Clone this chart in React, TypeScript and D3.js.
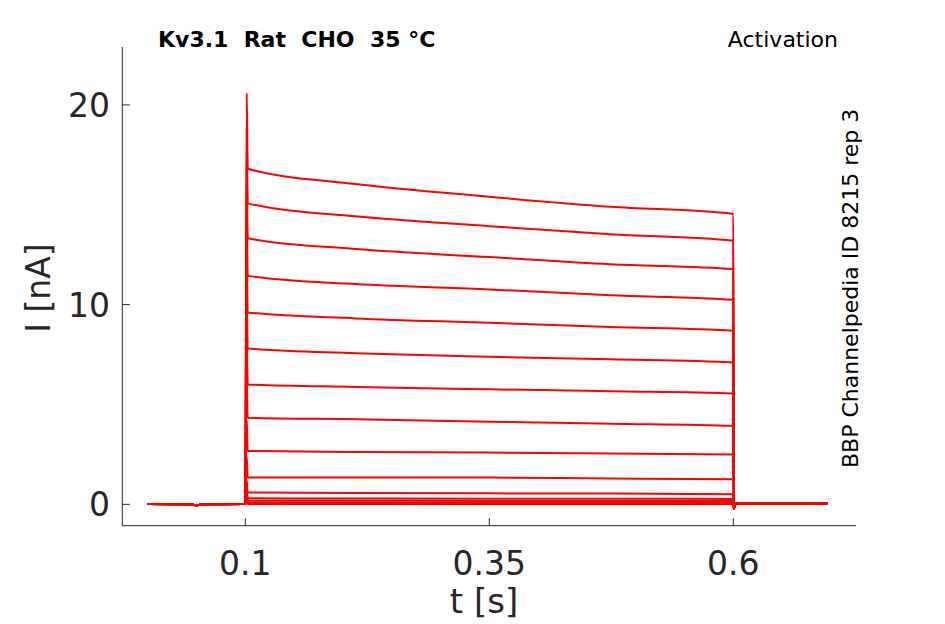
import { useEffect } from "react";
import * as d3 from "d3";

// ---------------------------------------------------------------------------
// Data (time in s, current in nA)
// ---------------------------------------------------------------------------

const HOLD_T = [0, 0.045, 0.05, 0.055, 0.0998];
const HOLD_I = [0.02, 0.0, -0.06, 0.0, 0.02];

const STEP_ON = 0.1;
const SPIKE_T = 0.1015;
const STEP_T = [0.1025, 0.213, 0.35, 0.474, 0.6];

// one row per voltage step, values at STEP_T
const TRACE_LEVELS = [
  [16.8, 16.04, 15.4, 14.9, 14.54],
  [15.07, 14.42, 13.93, 13.52, 13.2],
  [13.32, 12.78, 12.38, 12.02, 11.78],
  [11.44, 11.03, 10.76, 10.47, 10.24],
  [9.61, 9.31, 9.09, 8.88, 8.69],
  [7.8, 7.57, 7.39, 7.26, 7.1],
  [6.0, 5.88, 5.76, 5.66, 5.55],
  [4.33, 4.26, 4.14, 4.04, 3.93],
  [2.67, 2.62, 2.59, 2.54, 2.49],
  [1.34, 1.34, 1.34, 1.29, 1.25],
  [0.59, 0.57, 0.55, 0.54, 0.5],
  [0.3, 0.29, 0.28, 0.28, 0.27],
  [0.18, 0.18, 0.17, 0.17, 0.17],
  [0.08, 0.08, 0.08, 0.08, 0.08],
  [0.02, 0.02, 0.02, 0.02, 0.02],
];

const SPIKE_PEAKS = [20.6, 18.8, 16.9, 14.8, 12.7, 10.5, 8.4, 6.3, 4.2, 2.4, 1.2, 0.8, 0.5, 0.3, 0.1];

const TAIL_T = [0.6005, 0.602, 0.697];
const TAIL_I = [-0.22, 0.03, 0.03];

const X_TICKS = [0.1, 0.35, 0.6];
const Y_TICKS = [0, 10, 20];

const TITLE = "Kv3.1  Rat  CHO  35 °C";
const PROTOCOL = "Activation";
const SOURCE = "BBP Channelpedia ID 8215 rep 3";

// ---------------------------------------------------------------------------

const W = 945;
const H = 624;
const FONT = "DejaVu Sans, sans-serif";
const AXIS_COLOR = "#262626";

type Pt = [number, number];

function tracePoints(i: number): Pt[] {
  const pts: Pt[] = HOLD_T.map((t, k) => [t, HOLD_I[k]] as Pt);
  pts.push([STEP_ON, HOLD_I[HOLD_I.length - 1]]);
  pts.push([SPIKE_T, SPIKE_PEAKS[i]]);
  STEP_T.forEach((t, k) => pts.push([t, TRACE_LEVELS[i][k]]));
  TAIL_T.forEach((t, k) => pts.push([t, TAIL_I[k]]));
  return pts;
}

export default function App() {
  useEffect(() => {
    document.body.style.margin = "0";
  }, []);

  const left = 122.3;
  const right = 856;
  const top = 47;
  const bottom = 525.7;

  const x = d3.scaleLinear().domain([-0.026, 0.7257]).range([left, right]);
  const y = d3.scaleLinear().domain([-1.07, 22.9]).range([bottom, top]);

  const line = d3
    .line<Pt>()
    .x((d) => x(d[0]))
    .y((d) => y(d[1]))
    .curve(d3.curveMonotoneX);

  const tickLen = 7.5;

  return (
    <svg width={W} height={H} style={{ display: "block", background: "#fff" }} fontFamily={FONT}>
      {/* traces */}
      <g fill="none" stroke="#ff0000" strokeWidth={2} strokeLinejoin="round">
        {TRACE_LEVELS.map((_, i) => (
          <path key={i} d={line(tracePoints(i)) ?? ""} />
        ))}
      </g>

      {/* axes */}
      <g stroke={AXIS_COLOR} strokeWidth={1} fill="none">
        <line x1={left} x2={left} y1={top} y2={bottom} />
        <line x1={left} x2={right} y1={bottom} y2={bottom} />
        {X_TICKS.map((t) => (
          <line key={t} x1={x(t)} x2={x(t)} y1={bottom} y2={bottom - tickLen} />
        ))}
        {Y_TICKS.map((t) => (
          <line key={t} x1={left} x2={left + tickLen} y1={y(t)} y2={y(t)} />
        ))}
      </g>

      <g fill={AXIS_COLOR} fontSize={33}>
        {X_TICKS.map((t) => (
          <text key={t} x={x(t)} y={575} textAnchor="middle">
            {String(t)}
          </text>
        ))}
        {Y_TICKS.map((t) => (
          <text key={t} x={110} y={y(t)} dy="0.36em" textAnchor="end">
            {String(t)}
          </text>
        ))}
      </g>

      <text x={484} y={613} textAnchor="middle" fontSize={34} fill={AXIS_COLOR}>
        t [s]
      </text>
      <text
        transform={`translate(50,${288}) rotate(-90)`}
        textAnchor="middle"
        fontSize={33}
        fill={AXIS_COLOR}
      >
        I [nA]
      </text>

      {/* annotations */}
      <text x={158} y={46.7} fontSize={22} fontWeight="bold" fill="#000" style={{ whiteSpace: "pre" }}>
        {TITLE}
      </text>
      <text x={838} y={46.7} fontSize={22} textAnchor="end" fill="#000">
        {PROTOCOL}
      </text>
      <text
        transform={`translate(858,468) rotate(-90)`}
        fontSize={22}
        fill="#000"
      >
        {SOURCE}
      </text>
    </svg>
  );
}
